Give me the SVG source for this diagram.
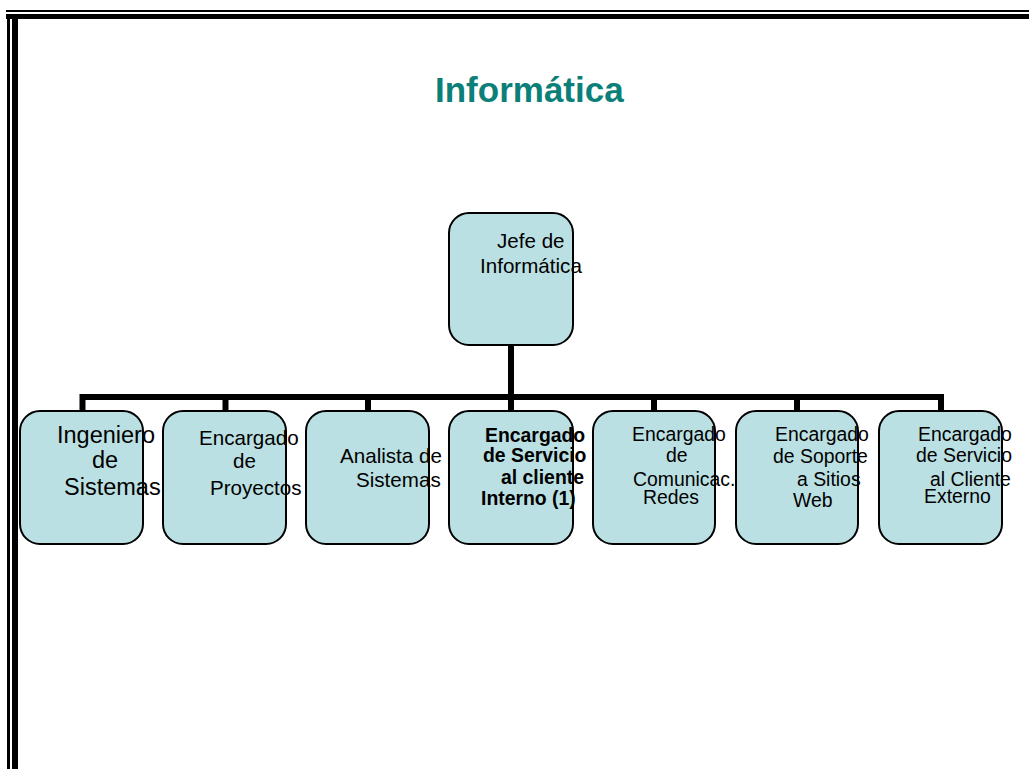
<svg xmlns="http://www.w3.org/2000/svg" width="1029" height="769" viewBox="0 0 1029 769">
  <style>
    .frame { fill: #000000; }
    .title { font-family: "Liberation Sans", Arial, sans-serif; font-weight: bold; font-size: 35px; fill: #0B7F78; }
    .box { fill: #BBE0E3; stroke: #000000; stroke-width: 2; }
    .lbl { font-family: "Liberation Sans", Arial, sans-serif; font-size: 19.4px; fill: #000000; }
    .lbl-b { font-family: "Liberation Sans", Arial, sans-serif; font-size: 19.4px; font-weight: bold; fill: #000000; }
    .wire { fill: none; stroke: #000000; stroke-width: 6; stroke-linejoin: miter; }
  </style>

  <!-- page border: double rule along top and left -->
  <g id="border">
    <rect class="frame" x="6" y="10" width="1023" height="2"/>
    <rect class="frame" x="6" y="14" width="1023" height="5"/>
    <rect class="frame" x="7" y="19" width="3" height="750"/>
    <rect class="frame" x="12" y="19" width="6" height="750"/>
  </g>

  <text class="title" x="435" y="102">Informática</text>

  <!-- tree connectors -->
  <g id="connectors">
    <line class="wire" x1="511" y1="344" x2="511" y2="411"/>
    <path class="wire" d="M82.5 411 V397 H941 V411"/>
    <line class="wire" x1="225.5" y1="397" x2="225.5" y2="411"/>
    <line class="wire" x1="368" y1="397" x2="368" y2="411"/>
    <line class="wire" x1="654" y1="397" x2="654" y2="411"/>
    <line class="wire" x1="797" y1="397" x2="797" y2="411"/>
  </g>

  <g id="jefe">
    <rect class="box" x="449" y="213" width="124" height="132" rx="20"/>
    <text class="lbl" style="font-size:20.6px" x="497" y="248">Jefe de</text>
    <text class="lbl" style="font-size:20.6px" x="480" y="273">Informática</text>
  </g>

  <g id="ingeniero">
    <rect class="box" x="20" y="411" width="123" height="133" rx="20"/>
    <text class="lbl" style="font-size:23.5px" x="57" y="443">Ingeniero</text>
    <text class="lbl" style="font-size:23.5px" x="92" y="468">de</text>
    <text class="lbl" style="font-size:23.5px" x="64" y="495">Sistemas</text>
  </g>

  <g id="proyectos">
    <rect class="box" x="163" y="411" width="123" height="133" rx="20"/>
    <text class="lbl" style="font-size:20.6px" x="199" y="445">Encargado</text>
    <text class="lbl" style="font-size:20.6px" x="233" y="468">de</text>
    <text class="lbl" style="font-size:20.6px" x="210" y="495">Proyectos</text>
  </g>

  <g id="analista">
    <rect class="box" x="306" y="411" width="123" height="133" rx="20"/>
    <text class="lbl" style="font-size:20.6px" x="340" y="463">Analista de</text>
    <text class="lbl" style="font-size:20.6px" x="356" y="487">Sistemas</text>
  </g>

  <g id="cliente-interno">
    <rect class="box" x="449" y="411" width="124" height="133" rx="20"/>
    <text class="lbl-b" x="485" y="442">Encargado</text>
    <text class="lbl-b" x="483" y="462">de Servicio</text>
    <text class="lbl-b" x="501" y="484">al cliente</text>
    <text class="lbl-b" x="481" y="505">Interno (1)</text>
  </g>

  <g id="comunicaciones">
    <rect class="box" x="593" y="411" width="122" height="133" rx="20"/>
    <text class="lbl" x="632" y="441">Encargado</text>
    <text class="lbl" x="666" y="462">de</text>
    <text class="lbl" x="633" y="486">Comunicac.</text>
    <text class="lbl" x="643" y="504">Redes</text>
  </g>

  <g id="soporte-web">
    <rect class="box" x="736" y="411" width="122" height="133" rx="20"/>
    <text class="lbl" x="775" y="441">Encargado</text>
    <text class="lbl" x="773" y="463">de Soporte</text>
    <text class="lbl" x="797" y="486">a Sitios</text>
    <text class="lbl" x="793" y="507">Web</text>
  </g>

  <g id="cliente-externo">
    <rect class="box" x="879" y="411" width="123" height="133" rx="20"/>
    <text class="lbl" x="918" y="441">Encargado</text>
    <text class="lbl" x="916" y="462">de Servicio</text>
    <text class="lbl" x="930" y="486">al Cliente</text>
    <text class="lbl" x="924" y="503">Externo</text>
  </g>
</svg>
